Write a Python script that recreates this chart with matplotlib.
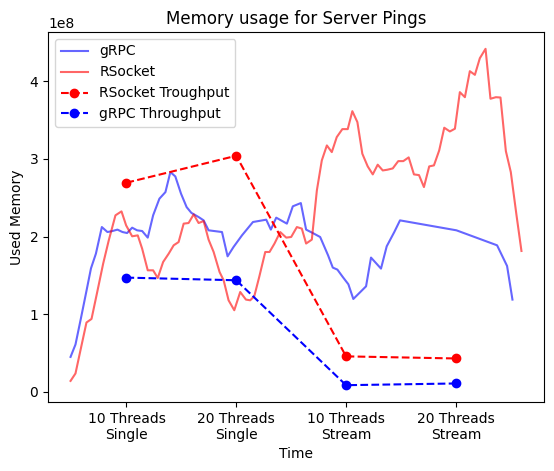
import matplotlib
matplotlib.use("Agg")
import matplotlib.pyplot as plt
import numpy as np

tick_labels = ["10 Threads\nSingle", "20 Threads\nSingle", "10 Threads\nStream", "20 Threads\nStream"]
tick_pos = [0, 1, 2, 3]

rsocket_time = [-0.509, -0.464, -0.412, -0.364, -0.318, -0.266, -0.212, -0.161, -0.100, -0.045,
                -0.003, 0.052, 0.103, 0.143, 0.194, 0.243, 0.285, 0.334, 0.385, 0.430,
                0.475, 0.521, 0.566, 0.612, 0.657, 0.703, 0.748, 0.794, 0.848, 0.885,
                0.930, 0.982, 1.036, 1.088, 1.127, 1.164, 1.209, 1.264, 1.303, 1.348,
                1.400, 1.455, 1.500, 1.552, 1.597, 1.636, 1.688, 1.734, 1.779, 1.825,
                1.870, 1.915, 1.966, 2.015, 2.057, 2.103, 2.148, 2.197, 2.243, 2.288,
                2.334, 2.375, 2.425, 2.475, 2.521, 2.570, 2.618, 2.664, 2.709, 2.757,
                2.800, 2.848, 2.894, 2.945, 2.991, 3.036, 3.082, 3.127, 3.173, 3.218,
                3.270, 3.315, 3.364, 3.406, 3.455, 3.500, 3.552, 3.597]
rsocket_mem = [0.141, 0.237, 0.579, 0.893, 0.939, 1.286, 1.651, 1.951, 2.273, 2.324,
               2.144, 2.003, 2.015, 1.844, 1.565, 1.565, 1.466, 1.672, 1.780, 1.887,
               1.929, 2.166, 2.174, 2.285, 2.174, 2.199, 1.960, 1.801, 1.543, 1.437,
               1.179, 1.051, 1.286, 1.188, 1.179, 1.231, 1.479, 1.801, 1.801, 1.909,
               2.058, 1.986, 1.994, 2.122, 2.102, 1.910, 1.960, 2.594, 2.980, 3.173,
               3.087, 3.280, 3.383, 3.383, 3.614, 3.473, 3.066, 2.903, 2.800, 2.925,
               2.851, 2.860, 2.877, 2.971, 2.971, 3.019, 2.800, 2.791, 2.637, 2.903,
               2.916, 3.109, 3.401, 3.353, 3.388, 3.859, 3.794, 4.129, 4.082, 4.296,
               4.417, 3.774, 3.794, 3.790, 3.100, 2.830, 2.273, 1.814]

grpc_time = [-0.509, -0.464, -0.415, -0.364, -0.323, -0.278, -0.224, -0.173, -0.127, -0.082,
             -0.036, 0.006, 0.052, 0.097, 0.143, 0.194, 0.243, 0.300, 0.355, 0.400,
             0.445, 0.497, 0.548, 0.591, 0.657, 0.703, 0.748, 0.870, 0.921, 0.975,
             1.052, 1.152, 1.273, 1.315, 1.364, 1.461, 1.515, 1.588, 1.636, 1.697,
             1.764, 1.836, 1.879, 1.921, 1.970, 2.021, 2.066, 2.182, 2.227, 2.318,
             2.370, 2.439, 2.491, 3.005, 3.375, 3.466, 3.515]
grpc_mem = [0.450, 0.610, 0.944, 1.300, 1.590, 1.780, 2.122, 2.058, 2.071, 2.089,
            2.058, 2.045, 2.114, 2.080, 2.071, 1.986, 2.273, 2.487, 2.572, 2.830,
            2.774, 2.552, 2.379, 2.305, 2.251, 2.208, 2.080, 2.058, 1.745, 1.865,
            2.015, 2.187, 2.217, 2.089, 2.243, 2.166, 2.389, 2.431, 2.089, 2.045,
            1.994, 1.758, 1.600, 1.574, 1.479, 1.385, 1.196, 1.359, 1.729, 1.587,
            1.874, 2.058, 2.208, 2.080, 1.887, 1.621, 1.188]

rsocket_throughput = [2.693, 3.040, 0.457, 0.430]
grpc_throughput = [1.471, 1.437, 0.086, 0.108]

scale = 1e8

fig = plt.figure(figsize=(5.54, 4.71), dpi=100)
ax = fig.add_axes([48/554, 69/471, 496/554, 370/471])

ax.plot(grpc_time, np.array(grpc_mem) * scale, color="blue", alpha=0.6, label="gRPC")
ax.plot(rsocket_time, np.array(rsocket_mem) * scale, color="red", alpha=0.6, label="RSocket")
ax.plot(tick_pos, np.array(rsocket_throughput) * scale, "o--", color="red", label="RSocket Troughput")
ax.plot(tick_pos, np.array(grpc_throughput) * scale, "o--", color="blue", label="gRPC Throughput")

ax.set_xticks(tick_pos)
ax.set_xticklabels(tick_labels)
ax.set_title("Memory usage for Server Pings")
ax.set_xlabel("Time")
ax.set_ylabel("Used Memory")
ax.legend(loc="upper left")

fig.savefig("out.png", dpi=100)
